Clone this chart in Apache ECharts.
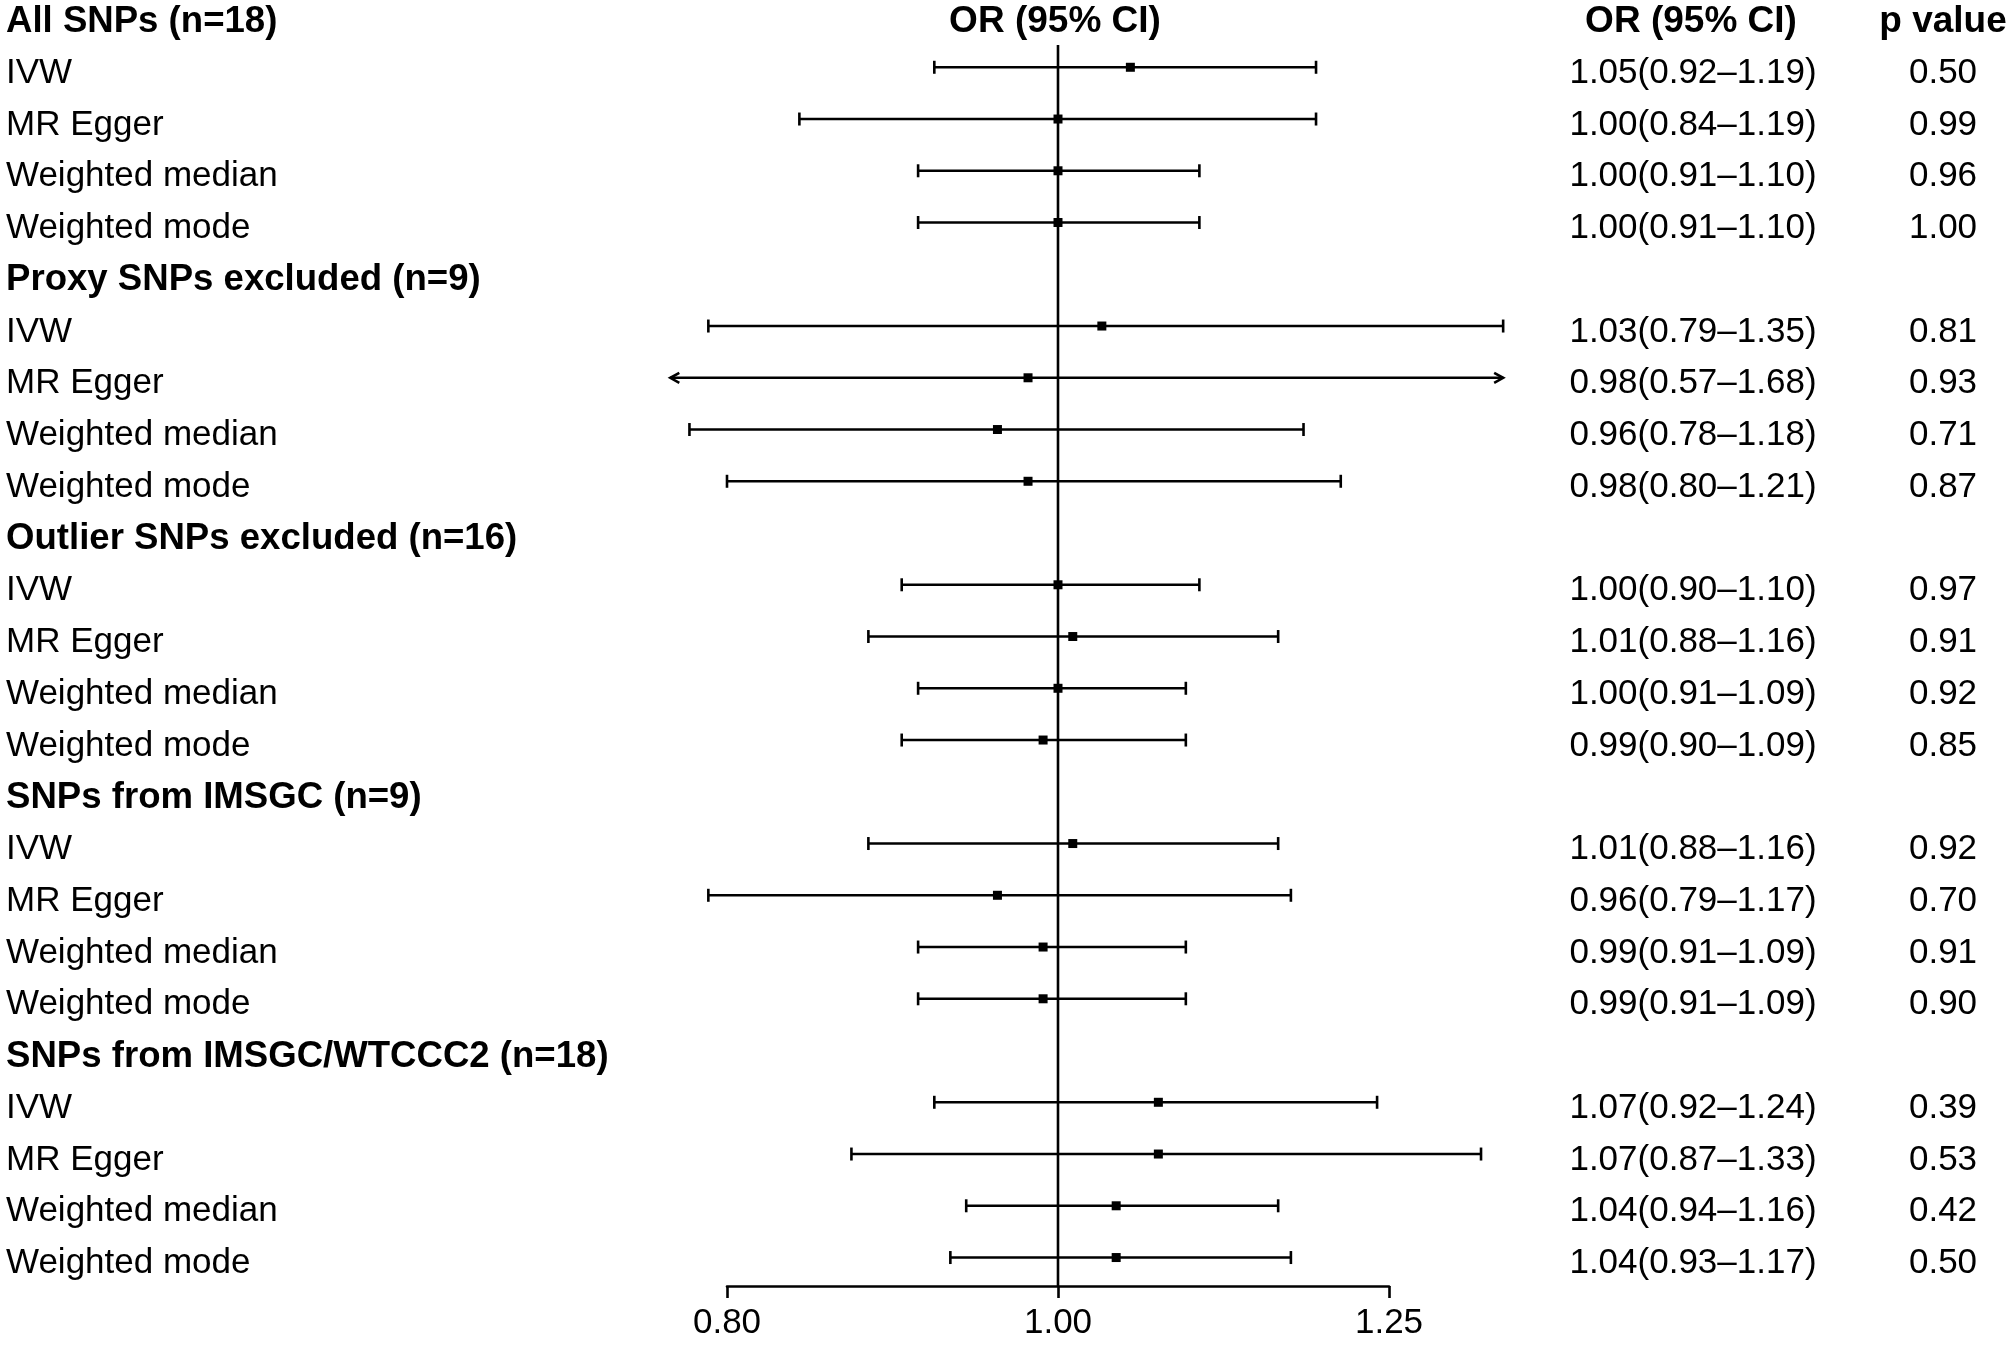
<!DOCTYPE html>
<html>
<head>
<meta charset="utf-8">
<title>Forest plot</title>
<script src="https://cdn.jsdelivr.net/npm/echarts@6/dist/echarts.min.js"></script>
<style>
  html, body { margin: 0; padding: 0; background: #fff; }
  #chart { width: 2010px; height: 1345px; }
</style>
</head>
<body>
<div id="chart"></div>
<script>
var groups = ['All SNPs (n=18)', 'Proxy SNPs excluded (n=9)', 'Outlier SNPs excluded (n=16)',
  'SNPs from IMSGC (n=9)', 'SNPs from IMSGC/WTCCC2 (n=18)'];
var methods = ['IVW', 'MR Egger', 'Weighted median', 'Weighted mode'];

// one entry per group x method, in the order above
var estimates = [1.05, 1.00, 1.00, 1.00,  1.03, 0.98, 0.96, 0.98,  1.00, 1.01, 1.00, 0.99,
  1.01, 0.96, 0.99, 0.99,  1.07, 1.07, 1.04, 1.04];
var lowerCI = [0.92, 0.84, 0.91, 0.91,  0.79, 0.57, 0.78, 0.80,  0.90, 0.88, 0.91, 0.90,
  0.88, 0.79, 0.91, 0.91,  0.92, 0.87, 0.94, 0.93];
var upperCI = [1.19, 1.19, 1.10, 1.10,  1.35, 1.68, 1.18, 1.21,  1.10, 1.16, 1.09, 1.09,
  1.16, 1.17, 1.09, 1.09,  1.24, 1.33, 1.16, 1.17];
var pValues = ['0.50', '0.99', '0.96', '1.00',  '0.81', '0.93', '0.71', '0.87',  '0.97', '0.91', '0.92', '0.85',
  '0.92', '0.70', '0.91', '0.90',  '0.39', '0.53', '0.42', '0.50'];

var columnHeads = ['OR (95% CI)', 'OR (95% CI)', 'p value'];
var clipRange = [0.77, 1.35];

var FONT = '"Liberation Sans", Arial, sans-serif';
var FONT_SIZE = 35;
var HEAD_SIZE = 37;
var GROUP_SIZE = 36.6;
var TEXT_SHIFT = 6;
var LINE_W = 2.6;

// build the row list: a bold header then the four methods for each group
var rows = [];
groups.forEach(function (g, gi) {
  rows.push({ label: g, header: true });
  methods.forEach(function (m, mi) {
    rows.push({ label: m, header: false, k: gi * methods.length + mi });
  });
});

var ciData = [];
var textData = [];
rows.forEach(function (r, i) {
  textData.push([1, i]);
  if (!r.header) {
    ciData.push([i, lowerCI[r.k], upperCI[r.k], estimates[r.k]]);
  }
});

function txt(x, y, text, align, size, bold) {
  return {
    type: 'text',
    style: {
      x: x, y: y, text: text,
      fill: '#000',
      fontSize: size,
      fontFamily: FONT,
      fontWeight: bold ? 'bold' : 'normal',
      align: align,
      verticalAlign: 'middle'
    }
  };
}

function renderText(params, api) {
  var i = params.dataIndex;
  var r = rows[i];
  var y = api.coord([1, i])[1] + TEXT_SHIFT;
  var children = [txt(6, y, r.label, 'left', r.header ? GROUP_SIZE : FONT_SIZE, r.header)];
  if (i === 0) {
    children.push(txt(api.coord([1, i])[0] - 3, y, columnHeads[0], 'center', HEAD_SIZE, true));
    children.push(txt(1691, y, columnHeads[1], 'center', HEAD_SIZE, true));
    children.push(txt(1943, y, columnHeads[2], 'center', HEAD_SIZE, true));
  }
  if (!r.header) {
    var k = r.k;
    var s = estimates[k].toFixed(2) + '(' + lowerCI[k].toFixed(2) + '\u2013' + upperCI[k].toFixed(2) + ')';
    children.push(txt(1693, y, s, 'center', FONT_SIZE, false));
    children.push(txt(1943, y, pValues[k], 'center', FONT_SIZE, false));
  }
  return { type: 'group', children: children };
}

function renderCI(params, api) {
  var row = api.value(0);
  var lo = api.value(1), hi = api.value(2), est = api.value(3);
  var loC = Math.max(lo, clipRange[0]);
  var hiC = Math.min(hi, clipRange[1]);
  var a = api.coord([loC, row]);
  var b = api.coord([hiC, row]);
  var c = api.coord([est, row]);
  var y = a[1];
  var st = { stroke: '#000', lineWidth: LINE_W, fill: null };
  var children = [{ type: 'line', shape: { x1: a[0], y1: y, x2: b[0], y2: y }, style: st }];
  if (lo < clipRange[0]) {
    children.push({ type: 'polyline', shape: { points: [[a[0] + 9, y - 5], [a[0], y], [a[0] + 9, y + 5]] }, style: st });
  } else {
    children.push({ type: 'line', shape: { x1: a[0], y1: y - 6.5, x2: a[0], y2: y + 6.5 }, style: st });
  }
  if (hi > clipRange[1]) {
    children.push({ type: 'polyline', shape: { points: [[b[0] - 9, y - 5], [b[0], y], [b[0] - 9, y + 5]] }, style: st });
  } else {
    children.push({ type: 'line', shape: { x1: b[0], y1: y - 6.5, x2: b[0], y2: y + 6.5 }, style: st });
  }
  children.push({ type: 'rect', shape: { x: c[0] - 4.5, y: y - 4.5, width: 9, height: 9 }, style: { fill: '#000' } });
  return { type: 'group', children: children };
}

function renderRef(params, api) {
  var top = api.coord([api.value(0), 0.57]);
  var bottom = api.coord([api.value(0), 24.55]);
  return {
    type: 'line',
    shape: { x1: top[0], y1: top[1], x2: bottom[0], y2: bottom[1] },
    style: { stroke: '#000', lineWidth: LINE_W }
  };
}

var chart = echarts.init(document.getElementById('chart'));

var option = {
  backgroundColor: '#fff',
  animation: false,
  grid: { left: 727, right: 621, top: 0, bottom: 59 },
  xAxis: {
    type: 'log',
    logBase: 1.25,
    min: 0.8,
    max: 1.25,
    axisLine: { show: true, onZero: false, lineStyle: { color: '#000', width: LINE_W } },
    axisTick: { show: true, length: 12, lineStyle: { color: '#000', width: LINE_W } },
    axisLabel: {
      color: '#000', fontSize: FONT_SIZE, fontFamily: FONT, margin: 20,
      formatter: function (v) { return Number(v).toFixed(2); }
    },
    splitLine: { show: false }
  },
  yAxis: {
    type: 'value',
    inverse: true,
    min: -0.3,
    max: 24.55,
    show: false
  },
  series: [
    { type: 'custom', name: 'ref', renderItem: renderRef, data: [[1]], clip: false, silent: true },
    { type: 'custom', name: 'ci', renderItem: renderCI, data: ciData, clip: false, silent: true },
    { type: 'custom', name: 'text', renderItem: renderText, data: textData, clip: false, silent: true }
  ]
};

chart.setOption(option);
</script>
</body>
</html>
